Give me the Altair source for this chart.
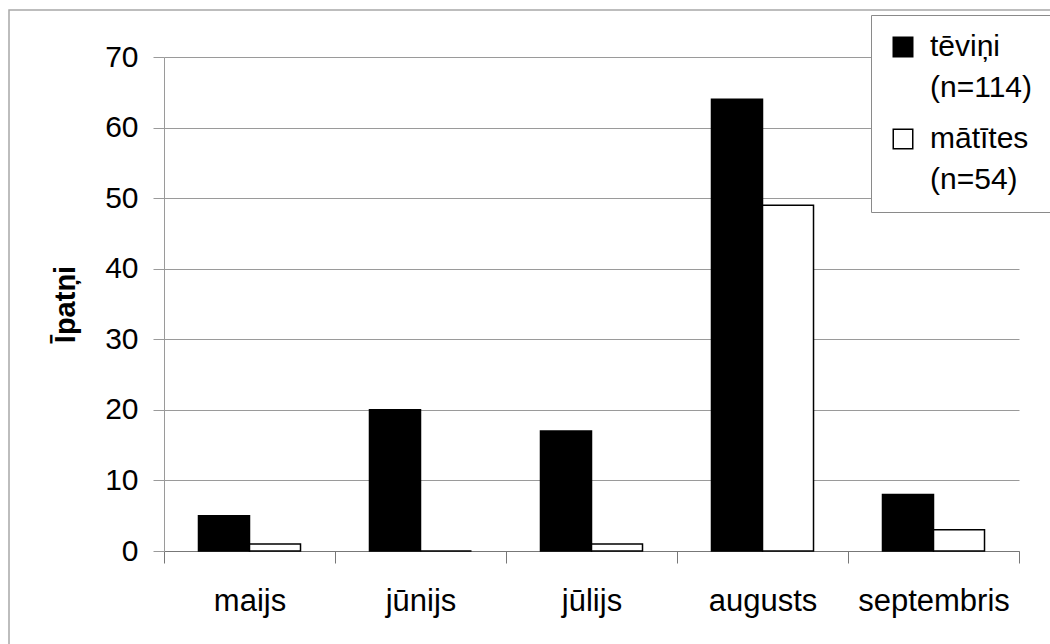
import altair as alt
import pandas as pd

# Monthly counts of individuals by sex
months = ["maijs", "jūnijs", "jūlijs", "augusts", "septembris"]
series = ["tēviņi (n=114)", "mātītes (n=54)"]
males = [5, 20, 17, 64, 8]
females = [1, 0, 1, 49, 3]

rows = []
for m, v in zip(months, males):
    rows.append({"mēnesis": m, "dzimums": series[0], "skaits": v})
for m, v in zip(months, females):
    rows.append({"mēnesis": m, "dzimums": series[1], "skaits": v})
df = pd.DataFrame(rows)

FONT = "Liberation Sans"
GRID = "#9a9a9a"

bars = alt.Chart(df).mark_bar(stroke="black", strokeWidth=1.5).encode(
    x=alt.X(
        "mēnesis:N",
        sort=months,
        title=None,
        scale=alt.Scale(paddingInner=0, paddingOuter=0),
        axis=alt.Axis(
            labelAngle=0,
            tickBand="extent",
            tickSize=12,
            labelPadding=23,
            labelFont=FONT,
            labelFontSize=31,
            labelColor="black",
            domainColor="#777777",
            tickColor="#777777",
            domainWidth=1.2,
        ),
    ),
    xOffset=alt.XOffset(
        "dzimums:N",
        sort=series,
        scale=alt.Scale(paddingInner=0, paddingOuter=0.676),
    ),
    y=alt.Y(
        "skaits:Q",
        title="Īpatņi",
        scale=alt.Scale(domain=[0, 70]),
        axis=alt.Axis(
            values=[0, 10, 20, 30, 40, 50, 60, 70],
            tickSize=11,
            labelPadding=15,
            labelFont=FONT,
            labelFontSize=30,
            labelColor="black",
            titleFont=FONT,
            titleFontSize=29,
            titleFontWeight="bold",
            titleColor="black",
            titlePadding=24,
            gridColor=GRID,
            gridWidth=1.2,
            domainColor=GRID,
            tickColor=GRID,
        ),
    ),
    fill=alt.Fill(
        "dzimums:N",
        sort=series,
        scale=alt.Scale(domain=series, range=["black", "white"]),
        legend=alt.Legend(
            title=None,
            orient="none",
            legendX=707,
            legendY=-42,
            labelExpr="split(datum.label, ' ')",
            labelFont=FONT,
            labelFontSize=30,
            labelColor="black",
            labelLimit=0,
            labelOffset=12,
            labelBaseline="middle",
            symbolType="square",
            symbolSize=380,
            symbolStrokeColor="black",
            symbolStrokeWidth=1.5,
            rowPadding=21,
            padding=17,
            fillColor="white",
            strokeColor="#8a8a8a",
        ),
    ),
)

# thin grey frame around the whole chart area
frame = alt.Chart(pd.DataFrame({"k": [0]})).mark_rect(
    fill=None, stroke="#a8a8a8", strokeWidth=1.5
).encode(
    x=alt.value(-155), x2=alt.value(900), y=alt.value(-47), y2=alt.value(620)
)

chart = alt.layer(frame, bars).properties(
    width=855,
    height=494,
    autosize=alt.AutoSizeParams(type="none"),
    padding={"left": 164, "top": 57, "right": 31, "bottom": 93},
).configure(
    style={"guide-label": {"lineHeight": 41}},
    view=alt.ViewConfig(stroke=None),
)

chart.save("out.html", embed_options={"renderer": "svg", "actions": False})
